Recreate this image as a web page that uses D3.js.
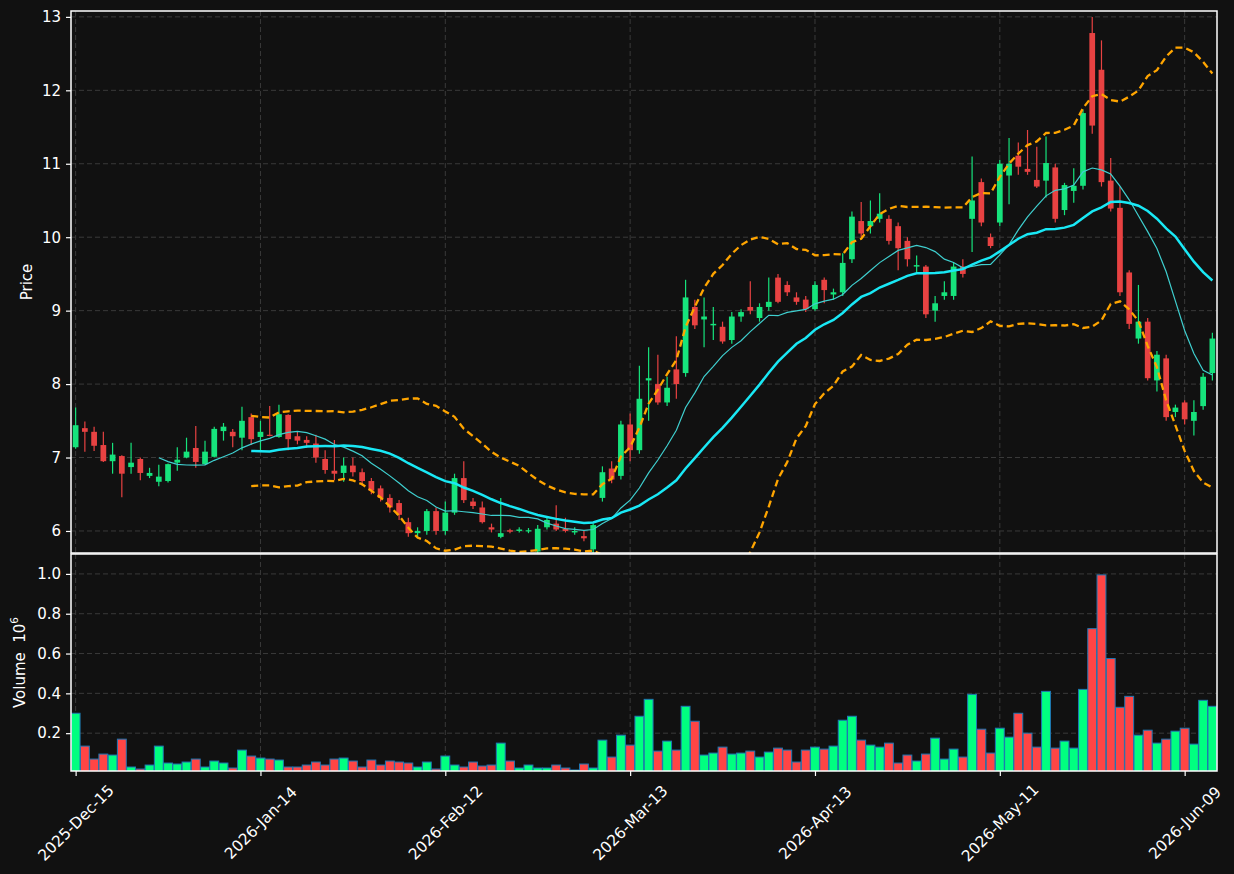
<!DOCTYPE html>
<html>
<head>
<meta charset="utf-8">
<script src="https://cdn.jsdelivr.net/npm/d3@7"></script>
<style>
body { margin: 0; background: #111111; }
svg text { font-family: "DejaVu Sans", sans-serif; }
</style>
</head>
<body>
<svg id="chart" width="1234" height="874"></svg>
<script>
// daily bars
var opens = [7.14,7.40,7.35,7.17,6.95,7.02,6.87,6.98,6.75,6.67,6.68,6.93,7.00,7.13,6.91,7.01,7.36,7.35,7.27,7.55,
  7.28,7.31,7.28,7.58,7.29,7.24,7.19,6.98,6.82,6.79,6.89,6.80,6.68,6.58,6.45,6.38,6.12,5.97,6.00,6.27,
  6.00,6.25,6.72,6.40,6.32,6.05,5.92,6.01,6.00,6.00,5.72,6.05,6.10,6.03,5.98,5.93,5.75,6.45,6.85,6.75,
  7.45,7.10,8.05,8.00,7.75,8.20,8.15,9.05,8.88,8.80,8.78,8.60,8.92,9.05,8.90,9.05,9.45,9.35,9.18,9.15,
  9.02,9.42,9.22,9.25,9.70,10.22,10.15,10.25,10.25,10.15,9.95,9.60,9.60,9.00,9.20,9.20,9.60,10.25,10.75,10.00,
  10.20,10.84,11.11,10.93,10.78,10.77,10.95,10.37,10.63,10.70,12.78,12.28,10.77,10.40,9.52,8.62,8.85,8.05,8.35,7.62,
  7.75,7.50,7.70,8.15];
var highs = [7.68,7.49,7.42,7.35,7.20,7.03,7.20,7.00,6.86,6.90,6.92,7.14,7.27,7.43,7.23,7.42,7.47,7.39,7.69,7.60,
  7.50,7.70,7.72,7.59,7.36,7.29,7.31,7.10,7.24,7.00,7.00,6.85,6.72,6.62,6.50,6.42,6.18,6.05,6.30,6.32,
  6.40,6.78,6.95,6.45,6.40,6.10,6.45,6.03,6.05,6.04,6.08,6.20,6.35,6.18,6.05,6.00,6.10,6.88,6.95,7.50,
  7.60,8.25,8.50,8.40,8.10,8.65,9.42,9.15,9.18,9.05,8.85,8.98,9.02,9.40,9.10,9.45,9.50,9.40,9.25,9.20,
  9.40,9.45,9.30,9.78,10.35,10.48,10.50,10.60,10.30,10.20,10.00,9.75,9.62,9.20,9.40,9.65,9.70,11.10,10.80,10.05,
  11.05,11.35,11.29,11.46,11.23,11.37,11.00,10.74,10.94,11.74,13.00,12.68,11.08,10.69,9.55,9.35,8.90,8.45,8.40,7.72,
  7.78,7.78,8.15,8.70];
var lows = [7.12,7.08,7.09,6.94,6.78,6.46,6.78,6.69,6.72,6.61,6.66,6.82,6.99,6.86,6.90,7.00,7.23,7.14,7.10,7.17,
  7.10,7.29,7.27,7.10,7.18,7.13,6.93,6.78,6.69,6.67,6.74,6.62,6.50,6.40,6.25,6.15,5.92,5.90,5.95,5.95,
  5.95,6.22,6.38,6.30,6.10,5.98,5.90,5.97,5.98,5.97,5.70,6.02,6.00,5.98,5.95,5.86,5.70,6.40,6.65,6.70,
  6.95,7.05,7.50,7.72,7.70,7.80,8.10,8.75,8.50,8.60,8.55,8.55,8.85,8.95,8.85,9.00,9.10,9.20,9.08,8.98,
  9.00,9.10,9.15,9.20,9.65,10.00,10.05,10.20,9.90,9.55,9.60,9.50,8.90,8.85,9.15,9.15,9.45,9.80,10.15,9.85,
  10.15,10.45,10.85,10.85,10.67,10.54,10.20,10.30,10.47,10.65,11.41,10.69,10.35,9.20,8.75,8.55,8.05,7.90,7.50,7.55,
  7.45,7.30,7.65,8.05];
var closes = [7.44,7.35,7.16,6.95,7.04,6.78,6.93,6.79,6.79,6.74,6.91,6.97,7.08,6.94,7.08,7.39,7.42,7.29,7.50,7.25,
  7.35,7.30,7.59,7.25,7.23,7.20,7.00,6.83,6.78,6.89,6.80,6.68,6.55,6.45,6.32,6.22,5.97,6.00,6.27,6.00,
  6.25,6.72,6.42,6.34,6.12,6.02,5.97,5.99,6.02,6.01,6.03,6.15,6.02,6.00,6.00,5.90,6.08,6.80,6.70,7.45,
  7.10,7.80,8.08,7.75,7.95,8.00,9.18,8.80,8.92,8.82,8.58,8.92,8.98,9.00,9.05,9.12,9.12,9.25,9.12,9.02,
  9.35,9.28,9.25,9.65,10.28,10.05,10.22,10.32,9.95,9.85,9.70,9.62,8.95,9.10,9.25,9.60,9.50,10.50,10.20,9.88,
  11.00,11.00,10.96,10.89,10.69,11.01,10.25,10.71,10.70,11.69,11.52,10.75,10.39,9.25,8.82,8.85,8.08,8.40,7.55,7.68,
  7.52,7.62,8.10,8.62];
var volumes = [300000,135000,70000,95000,90000,170000,30000,20000,40000,135000,50000,45000,55000,70000,30000,60000,50000,25000,115000,85000,
  75000,70000,65000,30000,30000,40000,55000,40000,70000,75000,60000,30000,65000,40000,60000,55000,50000,30000,55000,20000,
  85000,40000,30000,55000,35000,40000,150000,60000,25000,40000,25000,25000,40000,25000,15000,45000,25000,165000,80000,190000,
  140000,285000,370000,110000,160000,115000,335000,260000,90000,100000,130000,95000,100000,110000,80000,105000,125000,115000,55000,115000,
  130000,120000,135000,265000,285000,165000,140000,130000,150000,50000,90000,60000,95000,175000,70000,120000,80000,395000,220000,100000,
  225000,180000,300000,200000,130000,410000,125000,160000,125000,420000,725000,995000,575000,330000,385000,190000,215000,150000,170000,210000,
  225000,145000,365000,335000];

var firstDay = "2025-12-15";
var holidays = ["2025-12-25","2026-01-01","2026-01-19","2026-02-16","2026-04-03","2026-05-25"];
var priceTicks = [6, 7, 8, 9, 10, 11, 12, 13];
var volumeTicks = [0.2, 0.4, 0.6, 0.8, 1.0];
var tickEvery = 20;

var W = 1234, H = 874;
var left = 71, right = 1217;
var pTop = 11, pBot = 553, vTop = 554, vBot = 771;

var upCandle = "#16e37c", downCandle = "#e84242";
var upVol = "#00ff80", downVol = "#ff4545";
var gridColor = "#3a3a3a";
var fontSize = "15px";

function tradingDays(start, n) {
    var out = [];
    var fmt = d3.timeFormat("%Y-%m-%d");
    var d = new Date(start + "T12:00:00");
    while (out.length < n) {
        var wd = d.getDay();
        if (wd != 0 && wd != 6 && holidays.indexOf(fmt(d)) < 0) out.push(new Date(d));
        d.setDate(d.getDate() + 1);
    }
    return out;
}

function rolling(values, n) {
    var mean = [], sd = [];
    for (var i = 0; i < values.length; i++) {
        if (i < n - 1) { mean.push(null); sd.push(null); continue; }
        var win = values.slice(i - n + 1, i + 1);
        var m = d3.mean(win);
        mean.push(m);
        sd.push(Math.sqrt(d3.mean(win, function(v) { return (v - m) * (v - m); })));
    }
    return {mean: mean, sd: sd};
}

var N = closes.length;
var dates = tradingDays(firstDay, N);
var ma10 = rolling(closes, 10).mean;
var r20 = rolling(closes, 20);
var ma20 = r20.mean;
var bbUp = ma20.map(function(m, i) { return m == null ? null : m + 2 * r20.sd[i]; });
var bbLo = ma20.map(function(m, i) { return m == null ? null : m - 2 * r20.sd[i]; });

var x = d3.scaleLinear().domain([-0.5, N - 0.5]).range([left, right]);
var yP = d3.scaleLinear().domain([5.70, 13.08]).range([pBot, pTop]);
var yV = d3.scaleLinear().domain([0.01, 1.1]).range([vBot, vTop]);
var step = x(1) - x(0);

var svg = d3.select("#chart");
svg.append("rect").attr("width", W).attr("height", H).attr("fill", "#111111");

var defs = svg.append("defs");
defs.append("clipPath").attr("id", "clipP").append("rect")
    .attr("x", left).attr("y", pTop).attr("width", right - left).attr("height", pBot - pTop);
defs.append("clipPath").attr("id", "clipV").append("rect")
    .attr("x", left).attr("y", vTop).attr("width", right - left).attr("height", vBot - vTop);

var tickIdx = d3.range(0, N, tickEvery);
var fmtDate = d3.timeFormat("%Y-%b-%d");

// grid
var grid = svg.append("g").attr("stroke", gridColor).attr("stroke-width", 1).attr("stroke-dasharray", "5,3");
tickIdx.forEach(function(i) {
    grid.append("line").attr("x1", x(i)).attr("x2", x(i)).attr("y1", pTop).attr("y2", pBot);
    grid.append("line").attr("x1", x(i)).attr("x2", x(i)).attr("y1", vTop).attr("y2", vBot);
});
priceTicks.forEach(function(t) {
    grid.append("line").attr("x1", left).attr("x2", right).attr("y1", yP(t)).attr("y2", yP(t));
});
volumeTicks.forEach(function(t) {
    grid.append("line").attr("x1", left).attr("x2", right).attr("y1", yV(t)).attr("y2", yV(t));
});

// volume
svg.append("g").attr("clip-path", "url(#clipV)")
    .selectAll("rect").data(volumes).join("rect")
    .attr("x", function(d, i) { return x(i) - step * 0.48; })
    .attr("width", step * 0.96)
    .attr("y", function(d) { return yV(d / 1e6); })
    .attr("height", function(d) { return vBot - yV(d / 1e6) + 2; })
    .attr("fill", function(d, i) { return closes[i] >= opens[i] ? upVol : downVol; })
    .attr("stroke", "#1f77b4").attr("stroke-width", 1);

// candles
var cg = svg.append("g").attr("clip-path", "url(#clipP)");
cg.selectAll("line.wick").data(closes).join("line").attr("class", "wick")
    .attr("x1", function(d, i) { return x(i); }).attr("x2", function(d, i) { return x(i); })
    .attr("y1", function(d, i) { return yP(highs[i]); }).attr("y2", function(d, i) { return yP(lows[i]); })
    .attr("stroke", function(d, i) { return d >= opens[i] ? upCandle : downCandle; })
    .attr("stroke-width", 1.2);
cg.selectAll("rect.body").data(closes).join("rect").attr("class", "body")
    .attr("x", function(d, i) { return x(i) - step * 0.31; })
    .attr("width", step * 0.62)
    .attr("y", function(d, i) { return yP(Math.max(d, opens[i])); })
    .attr("height", function(d, i) { return Math.max(1.2, Math.abs(yP(d) - yP(opens[i]))); })
    .attr("fill", function(d, i) { return d >= opens[i] ? upCandle : downCandle; });

// indicator lines
function lineOf(arr) {
    return d3.line()
        .defined(function(d) { return d != null; })
        .x(function(d, i) { return x(i); })
        .y(function(d) { return yP(d); })(arr);
}
cg.append("path").attr("d", lineOf(ma10)).attr("fill", "none")
    .attr("stroke", "#3fcfcf").attr("stroke-width", 1.2);
cg.append("path").attr("d", lineOf(ma20)).attr("fill", "none")
    .attr("stroke", "#19e8f5").attr("stroke-width", 2.5);
[bbUp, bbLo].forEach(function(b) {
    cg.append("path").attr("d", lineOf(b)).attr("fill", "none")
        .attr("stroke", "#ffa500").attr("stroke-width", 2.3).attr("stroke-dasharray", "7,4");
});

// frames
[[pTop, pBot], [vTop, vBot]].forEach(function(p) {
    svg.append("rect").attr("x", left).attr("y", p[0]).attr("width", right - left).attr("height", p[1] - p[0])
        .attr("fill", "none").attr("stroke", "#ffffff").attr("stroke-width", 1.5);
});

// axes
function styleAxis(g) {
    g.select(".domain").remove();
    g.selectAll(".tick line").attr("stroke", "#ffffff").attr("stroke-width", 1.2);
    g.selectAll(".tick text").attr("fill", "#ffffff").attr("font-size", fontSize)
        .attr("font-family", "DejaVu Sans, sans-serif");
}
svg.append("g").attr("transform", "translate(" + left + ",0)")
    .call(d3.axisLeft(yP).tickValues(priceTicks).tickSize(5).tickPadding(5).tickFormat(d3.format("d")))
    .call(styleAxis);
svg.append("g").attr("transform", "translate(" + left + ",0)")
    .call(d3.axisLeft(yV).tickValues(volumeTicks).tickSize(5).tickPadding(5).tickFormat(d3.format(".1f")))
    .call(styleAxis);
var xa = svg.append("g").attr("transform", "translate(0," + vBot + ")")
    .call(d3.axisBottom(x).tickValues(tickIdx).tickSize(5).tickFormat(function(i) { return fmtDate(dates[i]); }))
    .call(styleAxis);
xa.selectAll(".tick text")
    .attr("text-anchor", "middle").attr("dy", null).attr("y", null)
    .attr("dominant-baseline", "central")
    .attr("font-size", "15.4px")
    .attr("transform", "translate(0,52) rotate(-45)");

// axis titles
svg.append("text").attr("transform", "translate(27," + ((pTop + pBot) / 2) + ") rotate(-90)")
    .attr("text-anchor", "middle").attr("dominant-baseline", "central")
    .attr("fill", "#ffffff").attr("font-size", fontSize).text("Price");
var vt = svg.append("text").attr("transform", "translate(20," + ((vTop + vBot) / 2) + ") rotate(-90)")
    .attr("text-anchor", "middle").attr("dominant-baseline", "central")
    .style("white-space", "pre")
    .attr("fill", "#ffffff").attr("font-size", fontSize);
vt.append("tspan").text("Volume  10");
vt.append("tspan").attr("dy", "-6").attr("font-size", "10.5px").text("6");
</script>
</body>
</html>
